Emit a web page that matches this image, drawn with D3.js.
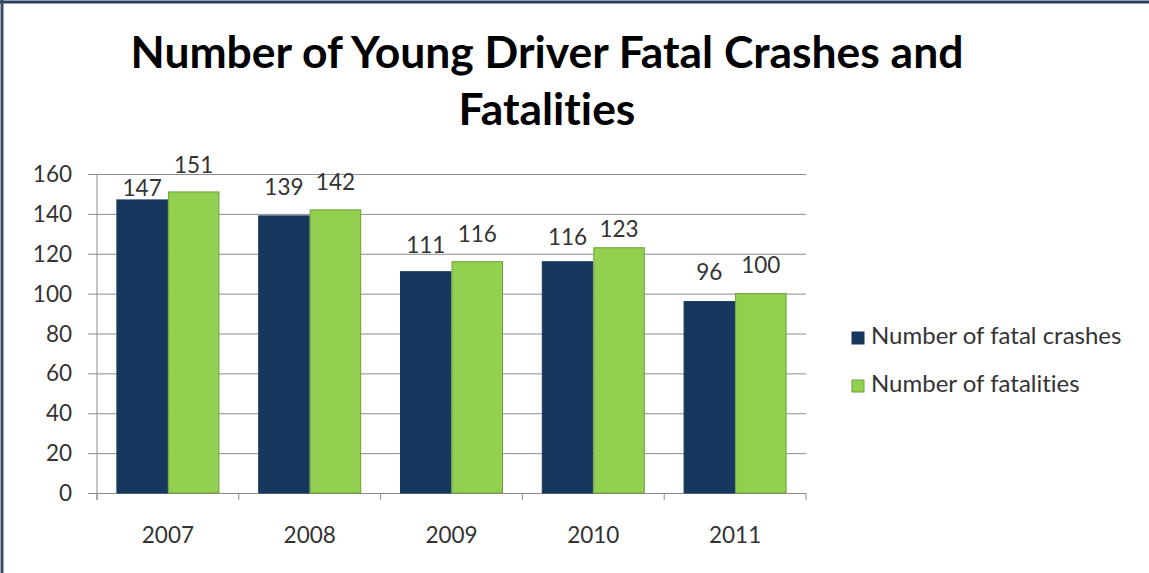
<!DOCTYPE html>
<html>
<head>
<meta charset="utf-8">
<script src="https://cdn.jsdelivr.net/npm/d3@7"></script>
<style>
  html, body { margin: 0; padding: 0; background: #fff; }
  svg { display: block; }
  text { font-variant-ligatures: none; font-feature-settings: "liga" 0; }
</style>
</head>
<body>
<svg id="chart" width="1149" height="573"></svg>
<script>
// ---- data ----
const categories = ["2007", "2008", "2009", "2010", "2011"];
const seriesNames = ["Number of fatal crashes", "Number of fatalities"];
const fatalCrashes = [147, 139, 111, 116, 96];
const fatalities = [151, 142, 116, 123, 100];
const yTicks = [0, 20, 40, 60, 80, 100, 120, 140, 160];
const titleLines = ["Number of Young Driver Fatal Crashes and", "Fatalities"];

// ---- layout / style ----
const W = 1149, H = 573;
const plot = { left: 97, right: 806, top: 174, bottom: 493 };
const colors = ["#17375E", "#92D050"];
const strokes = ["#17375E", "#6E9E3A"];
const font = "Lato, 'Open Sans', sans-serif";
const textColor = "#333333";
const gridColor = "#8C8C8C";

const svg = d3.select("#chart");
svg.append("rect").attr("width", W).attr("height", H).attr("fill", "#fff");

// frame (top + left dark lines)
svg.append("line").attr("x1", 0).attr("x2", W).attr("y1", 2).attr("y2", 2)
  .attr("stroke", "#2B3F5C").attr("stroke-width", 3);
svg.append("line").attr("x1", 2).attr("x2", 2).attr("y1", 0).attr("y2", H)
  .attr("stroke", "#3A4E6C").attr("stroke-width", 3);

// title
const titleG = svg.append("g");
const titleTargetWidth = 833;
const t1 = titleG.append("text")
  .attr("x", 547).attr("y", 68)
  .attr("text-anchor", "middle")
  .attr("font-family", font).attr("font-weight", "bold")
  .attr("font-size", 40).attr("fill", "#000")
  .text(titleLines[0]);
const w40 = t1.node().getComputedTextLength();
const titleSize = 40 * titleTargetWidth / w40;
t1.attr("font-size", titleSize);
titleG.append("text")
  .attr("x", 547).attr("y", 125)
  .attr("text-anchor", "middle")
  .attr("font-family", font).attr("font-weight", "bold")
  .attr("font-size", titleSize).attr("fill", "#000")
  .text(titleLines[1]);

// scales
const y = d3.scaleLinear().domain([0, 160]).range([plot.bottom, plot.top]);
const x0 = d3.scaleBand().domain(categories).range([plot.left, plot.right]).padding(0);
const groupW = 103;
const x1 = d3.scaleBand().domain(seriesNames)
  .range([(x0.step() - groupW) / 2, (x0.step() + groupW) / 2]).padding(0);

// gridlines + y axis
const yAxis = d3.axisLeft(y).tickValues(yTicks).tickSize(-(plot.right - plot.left + 9)).tickPadding(0);
const gy = svg.append("g").attr("transform", `translate(${plot.left - 9},0)`).call(yAxis);
gy.select(".domain").remove();
gy.selectAll(".tick line").attr("stroke", gridColor).attr("stroke-width", 1);
gy.selectAll(".tick text").remove();
svg.append("g").selectAll("text").data(yTicks).join("text")
  .attr("x", 72).attr("y", d => y(d) + 8)
  .attr("text-anchor", "end")
  .attr("font-family", font).attr("font-size", 22.5).attr("fill", textColor)
  .text(d => d);

// y axis line
svg.append("line").attr("x1", plot.left).attr("x2", plot.left)
  .attr("y1", plot.top).attr("y2", plot.bottom + 7)
  .attr("stroke", gridColor).attr("stroke-width", 1);

// x axis ticks at category boundaries
const boundaries = categories.map(c => x0(c)).concat([x0(categories[categories.length - 1]) + x0.step()]);
svg.append("g").selectAll("line").data(boundaries).join("line")
  .attr("x1", d => d).attr("x2", d => d)
  .attr("y1", plot.bottom).attr("y2", plot.bottom + 7)
  .attr("stroke", gridColor).attr("stroke-width", 1);

// bars
const rows = categories.map((c, i) => ({ cat: c, vals: [fatalCrashes[i], fatalities[i]] }));
const groups = svg.append("g").selectAll("g").data(rows).join("g")
  .attr("transform", d => `translate(${x0(d.cat)},0)`);
groups.selectAll("rect").data(d => d.vals.map((v, k) => ({ v, k }))).join("rect")
  .attr("x", d => x1(seriesNames[d.k]) + 0.5)
  .attr("y", d => y(d.v))
  .attr("width", x1.bandwidth() - 1)
  .attr("height", d => y(0) - y(d.v))
  .attr("fill", d => colors[d.k])
  .attr("stroke", d => strokes[d.k]).attr("stroke-width", 1);

// data labels (label offsets above bar top)
const labelOffsets = [[4, 19], [21, 20], [19, 20], [17, 11], [22, 21]];
groups.each(function (d, i) {
  d3.select(this).selectAll("text.lbl").data(d.vals).join("text")
    .attr("class", "lbl")
    .attr("x", (v, k) => x1(seriesNames[k]) + x1.bandwidth() / 2)
    .attr("y", (v, k) => y(v) - labelOffsets[i][k])
    .attr("text-anchor", "middle")
    .attr("font-family", font).attr("font-size", 22.5).attr("fill", textColor)
    .text(v => v);
});

// category labels
svg.append("g").selectAll("text").data(categories).join("text")
  .attr("x", d => x0(d) + x0.step() / 2)
  .attr("y", 543)
  .attr("text-anchor", "middle")
  .attr("font-family", font).attr("font-size", 22.5).attr("fill", textColor)
  .text(d => d);

// legend
const legend = svg.append("g");
const legRows = legend.selectAll("g").data(seriesNames).join("g")
  .attr("transform", (d, i) => `translate(852,${332 + i * 48})`);
legRows.append("rect").attr("width", 12).attr("height", 12)
  .attr("fill", (d, i) => colors[i]).attr("stroke", (d, i) => strokes[i]);
legRows.append("text").attr("x", 19).attr("y", 12)
  .attr("font-family", font).attr("font-size", 24).attr("fill", textColor)
  .text(d => d);
</script>
</body>
</html>
